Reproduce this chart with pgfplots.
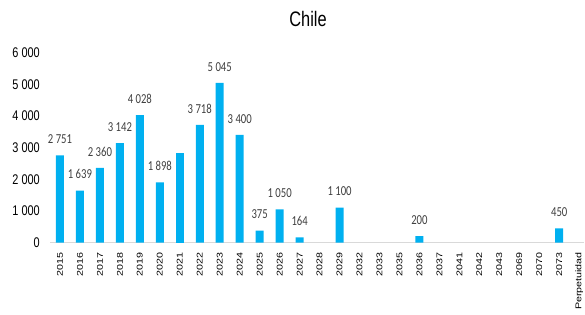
\documentclass[border=0pt]{standalone}
\usepackage{pgfplots}
\pgfplotsset{compat=1.18}
\usepackage{graphicx}
\usepackage{fontspec}
\setmainfont{Liberation Sans}
\newfontfamily\lblfont{Carlito}
\definecolor{barblue}{HTML}{00B0F0}
\definecolor{axgray}{HTML}{D9D9D9}
\definecolor{lblgray}{HTML}{404040}
\newcommand{\hs}[1]{\scalebox{0.78}[1]{#1}}
\newcommand{\vs}[1]{\scalebox{1}[0.78]{#1}}
\begin{document}
\begin{tikzpicture}
\path[use as bounding box] (0,0) rectangle (585pt,314pt);
\begin{axis}[
  at={(50pt,71.5pt)}, anchor=south west,
  scale only axis, width=534.2pt, height=189.8pt,
  xmin=-0.5, xmax=26.25, ymin=0, ymax=6000,
  axis lines*=left,
  x axis line style={draw=axgray, line width=1pt},
  y axis line style={draw=none},
  major tick length=0pt,
  ytick={0,1000,...,6000},
  scaled y ticks=false,
  /pgf/number format/assume math mode=true,
  /pgf/number format/1000 sep={\ },
  yticklabel={\hs{\pgfmathprintnumber{\tick}}},
  yticklabel style={font=\fontsize{14}{16}\selectfont, anchor=east, inner sep=0pt, xshift=-10pt},
  xtick={0,...,26},
  xticklabels={\vs{2015},\vs{2016},\vs{2017},\vs{2018},\vs{2019},\vs{2020},\vs{2021},\vs{2022},\vs{2023},\vs{2024},\vs{2025},\vs{2026},\vs{2027},\vs{2028},\vs{2029},\vs{2032},\vs{2033},\vs{2035},\vs{2036},\vs{2037},\vs{2041},\vs{2042},\vs{2043},\vs{2069},\vs{2070},\vs{2073},\vs{Perpetuidad}},
  xticklabel style={font=\fontsize{10.7}{12}\selectfont, rotate=90, anchor=east, inner sep=0pt, xshift=-9.5pt},
  title={\hs{Chile}},
  title style={font=\fontsize{21}{24}\selectfont, at={(rel axis cs:0.483,1.172)}, anchor=center, inner sep=0pt, yshift=-5pt},
  ybar, bar width=8pt, bar shift=0pt,
  clip=false,
]
\addplot[fill=barblue, draw=none,
  nodes near coords={\hs{\pgfmathprintnumber{\pgfplotspointmeta}}},
  every node near coord/.style={font=\lblfont\fontsize{13.7}{15}\selectfont, text=lblgray, anchor=south, inner sep=0pt, yshift=11.5pt},
] table {
x y
0 2751
1 1639
2 2360
3 3142
4 4028
5 1898
7 3718
8 5045
9 3400
10 375
11 1050
12 164
14 1100
18 200
25 450
};
\addplot[fill=barblue, draw=none] table {
x y
6 2835
};
\end{axis}
\end{tikzpicture}
\end{document}
